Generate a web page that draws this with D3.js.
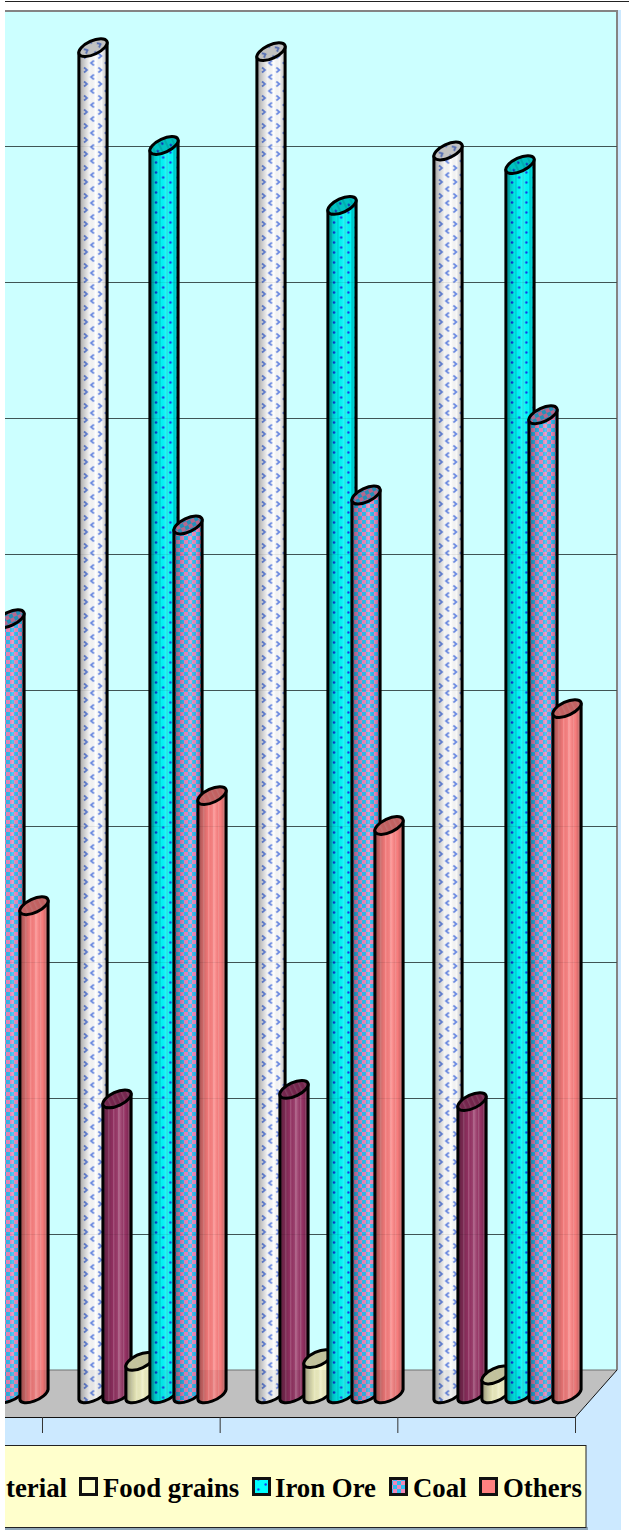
<!DOCTYPE html>
<html><head><meta charset="utf-8">
<script src="https://cdnjs.cloudflare.com/ajax/libs/d3/7.8.5/d3.min.js"></script>
<style>html,body{margin:0;padding:0;background:#fff;overflow:hidden}svg{display:block}</style>
</head><body><div id="c"></div>
<script>
// values; grid step taken as 100 (the value axis is cropped away)
const s0Values    = [null, 990, 987, 914];
const s1Values    = [null, 217, 224, 215];
const foodValues  = [null, 24, 26, 14];
const ironValues  = [null, 918, 874, 904];
const coalValues  = [570, 639, 661, 720];
const otherValues = [359, 440, 418, 504];
const gridTicks = [100,200,300,400,500,600,700,800,900];
const categoryTicks = [1,2,3,4];
const legendLabels = ["Food grains","Iron Ore","Coal","Others"];
const valueRows = [s0Values,s1Values,foodValues,ironValues,coalValues,otherValues];

const W=629,H=1536;
const L=5,wallR=617,floorBack=1370,floorFront=1417,frontR=575;
const svg=d3.select("#c").append("svg").attr("width",W).attr("height",H);
const defs=svg.append("defs");
defs.append("clipPath").attr("id","view").append("rect").attr("x",L).attr("y",0).attr("width",W-L).attr("height",H);
const root=svg.append("g").attr("clip-path","url(#view)");

const y=d3.scaleLinear().domain([0,1000]).range([floorBack,10]);
const x=d3.scaleLinear().domain([0,4]).range([-135.67,575]);
const depthY=24, depthX=21.5, step=23.7;
const seriesOffset=d3.scaleLinear().domain([0,5]).range([-2.5*step,2.5*step]);

const shade=defs.append("linearGradient").attr("id","shade");
[[0,"#000",.42],[.14,"#000",.24],[.38,"#000",.04],[.6,"#fff",.18],[.8,"#000",.03],[1,"#000",.3]].forEach(s=>
 shade.append("stop").attr("offset",s[0]).attr("stop-color",s[1]).attr("stop-opacity",s[2]));

const pChevron=defs.append("pattern").attr("id","pChevron").attr("patternUnits","userSpaceOnUse").attr("width",14.4).attr("height",14).attr("x",-11).attr("y",0);
pChevron.append("path").attr("d","M2 -2.5L5 0L2 2.5M2 11.5L5 14L2 16.5").attr("fill","none").attr("stroke","#6a8cec").attr("stroke-width",1.7);
pChevron.append("path").attr("d","M12 4.5L9 7L12 9.5").attr("fill","none").attr("stroke","#6a8cec").attr("stroke-width",1.7);
const pDots=defs.append("pattern").attr("id","pDots").attr("patternUnits","userSpaceOnUse").attr("width",14.4).attr("height",10).attr("x",-11).attr("y",0);
pDots.append("circle").attr("cx",3).attr("cy",2.5).attr("r",1.2).attr("fill","#1538f0");
pDots.append("circle").attr("cx",10.2).attr("cy",7.5).attr("r",1.2).attr("fill","#1538f0");
const pCheck=defs.append("pattern").attr("id","pCheck").attr("patternUnits","userSpaceOnUse").attr("width",8).attr("height",8);
pCheck.append("rect").attr("width",8).attr("height",8).attr("fill","#2fbdf2");
pCheck.append("rect").attr("width",4).attr("height",4).attr("fill","#f088bb");
pCheck.append("rect").attr("x",4).attr("y",4).attr("width",4).attr("height",4).attr("fill","#f088bb");
const pStripe=defs.append("pattern").attr("id","pStripe").attr("patternUnits","userSpaceOnUse").attr("width",5).attr("height",10);
pStripe.append("rect").attr("x",1).attr("width",1.4).attr("height",10).attr("fill","#fff").attr("opacity",.16);
const pCyan=defs.append("pattern").attr("id","pCyan").attr("patternUnits","userSpaceOnUse").attr("width",7).attr("height",10);
pCyan.append("rect").attr("x",2).attr("width",2).attr("height",10).attr("fill","#000").attr("opacity",.1);

const look=[
 {base:"#ffffff",tex:["pChevron"]},
 {base:"#993366",tex:["pStripe"]},
 {base:"#ffffcc",tex:["pStripe"]},
 {base:"#00ffff",tex:["pCyan","pDots"]},
 {base:"#ffffff",tex:["pCheck"]},
 {base:"#ff8080",tex:["pStripe"]}
];

root.append("rect").attr("x",L).attr("y",10).attr("width",616).attr("height",1520).attr("fill","#cce9ff");
root.append("rect").attr("x",L).attr("y",11).attr("width",wallR-L).attr("height",floorBack-11).attr("fill","#ccffff");
root.append("line").attr("x1",L).attr("x2",W).attr("y1",1.5).attr("y2",1.5).attr("stroke","#222").attr("stroke-width",1);
root.append("path").attr("d",`M${L} 11H${wallR}V${floorBack}`).attr("fill","none").attr("stroke","#848484").attr("stroke-width",2);
const gridG=root.append("g").attr("transform",`translate(${L},0)`)
 .call(d3.axisRight(y).tickValues(gridTicks).tickSize(wallR-L).tickFormat(""));
gridG.select(".domain").remove();
gridG.selectAll("line").attr("stroke","#3f5555");
root.append("path").attr("d",`M${L} ${floorBack}H${wallR}L${frontR} ${floorFront}H${L}Z`).attr("fill","#c0c0c0");
root.append("path").attr("d",`M${L} ${floorBack}H${wallR}`).attr("stroke","#707070").attr("fill","none");
root.append("path").attr("d",`M${L} ${floorFront+.5}H${frontR}L${wallR} ${floorBack}`).attr("stroke","#111").attr("fill","none");
const xAx=root.append("g").attr("transform",`translate(0,${floorFront})`)
 .call(d3.axisBottom(x).tickValues(categoryTicks).tickSize(16).tickFormat(""));
xAx.select(".domain").remove();
xAx.selectAll("line").attr("stroke","#333");

const a=15.3,b=6.8,rot=-25,hw=14.1,ty=5.1,sw=3;
const marks=[];
categoryTicks.forEach((_,ci)=>valueRows.forEach((row,si)=>{
  if(row[ci]!=null) marks.push({ci,si,v:row[ci],id:`cy${ci}_${si}`});
}));
const baseY=y(0)+depthY+.5;
const cyl=root.selectAll("g.cyl").data(marks).join("g").attr("class","cyl")
 .attr("transform",d=>`translate(${Math.round(x(d.ci+.5)+depthX+seriesOffset(d.si))},0)`);
cyl.each(function(d){
  const g=d3.select(this), lk=look[d.si], t=y(d.v)+depthY;
  const p=`M${-hw} ${t+ty}L${-hw} ${baseY+ty}A${a} ${b} ${rot} 0 0 ${hw} ${baseY-ty}L${hw} ${t-ty}Z`;
  defs.append("clipPath").attr("id",d.id).append("path").attr("d",p);
  g.append("path").attr("d",p).attr("fill",lk.base);
  lk.tex.forEach(id=>g.append("path").attr("d",p).attr("fill",`url(#${id})`));
  g.append("path").attr("d",p).attr("fill","url(#shade)");
  const see=g.append("g").attr("clip-path",`url(#${d.id})`);
  see.append("rect").attr("x",-hw).attr("width",2*hw).attr("y",floorBack).attr("height",baseY+ty+10-floorBack).attr("fill","#000").attr("opacity",.05);
  see.selectAll("line").data(gridTicks).join("line").attr("x1",-hw).attr("x2",hw)
    .attr("y1",v=>y(v)+.5).attr("y2",v=>y(v)+.5).attr("stroke","#000").attr("opacity",.07);
  g.append("path").attr("d",p).attr("fill","none").attr("stroke","#000").attr("stroke-width",sw).attr("stroke-linejoin","round");
  const ell=()=>g.append("ellipse").attr("rx",a).attr("ry",b).attr("transform",`translate(0,${t}) rotate(${rot})`);
  ell().attr("fill",lk.base);
  lk.tex.forEach(id=>ell().attr("fill",`url(#${id})`));
  ell().attr("fill","#000").attr("opacity",.24);
  ell().attr("fill","none").attr("stroke","#000").attr("stroke-width",sw);
});

root.append("rect").attr("x",L).attr("y",1527).attr("width",583).attr("height",3).attr("fill","#8fa6b8");
root.append("rect").attr("x",L-2).attr("y",1445.5).attr("width",583).attr("height",82).attr("fill","#ffffcc").attr("stroke","#222").attr("stroke-width",1);
const fontF="'Liberation Serif','Times New Roman',serif";
const legY=1497, fs=26.8;
root.append("text").attr("x",6).attr("y",legY).text("terial").attr("font-family",fontF).attr("font-weight","bold").attr("font-size",fs).attr("fill","#000");
const legendX=[79,252,389,479];
const legendLook=[2,3,4,5];
const leg=root.selectAll("g.leg").data(legendLabels).join("g").attr("class","leg").attr("transform",(d,i)=>`translate(${legendX[i]},1477)`);
leg.each(function(d,i){
  const g=d3.select(this), lk=look[legendLook[i]];
  const r=()=>g.append("rect").attr("x",1.5).attr("y",1.5).attr("width",16).attr("height",16);
  r().attr("fill",lk.base);
  lk.tex.filter(t=>t!=="pStripe"&&t!=="pCyan").forEach(id=>r().attr("fill",`url(#${id})`));
  r().attr("fill","none").attr("stroke","#111").attr("stroke-width",3);
  g.append("text").attr("x",[24,23,24,24][i]).attr("y",legY-1477).text(d).attr("font-family",fontF).attr("font-weight","bold").attr("font-size",fs).attr("fill","#000");
});
</script></body></html>
